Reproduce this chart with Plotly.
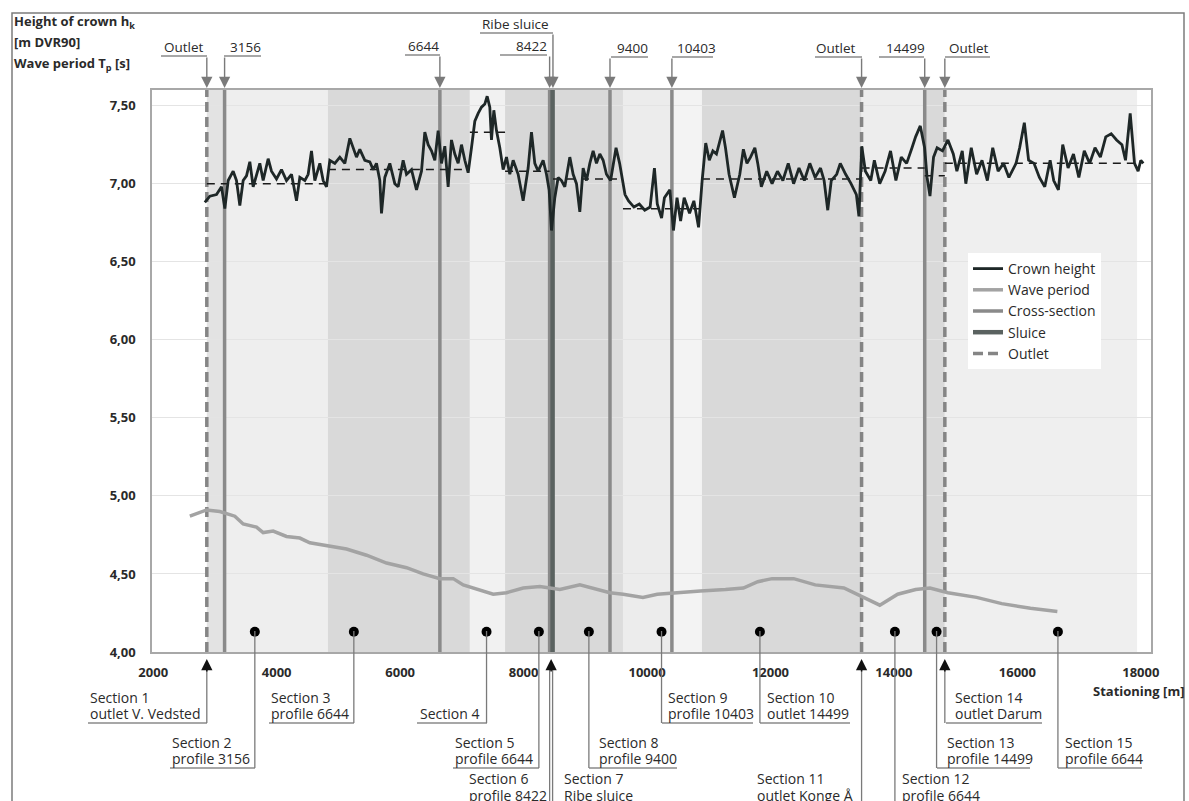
import plotly.graph_objects as go

# ---------------- data ----------------
crown_station = [2836, 2917, 3025, 3106, 3160, 3214, 3295, 3349, 3403, 3457, 3511, 3565, 3619, 3673, 3727, 3781,
                 3862, 3916, 3997, 4078, 4159, 4240, 4321, 4375, 4456, 4510, 4564, 4618, 4699, 4753, 4807, 4861,
                 4942, 5023, 5104, 5185, 5239, 5293, 5347, 5428, 5509, 5563, 5617, 5671, 5698, 5752, 5833, 5914,
                 5968, 6049, 6103, 6184, 6265, 6346, 6400, 6454, 6508, 6562, 6616, 6670, 6724, 6778, 6832, 6886,
                 6940, 6994, 7048, 7102, 7156, 7210, 7264, 7318, 7372, 7410, 7453, 7480, 7518, 7561, 7615, 7669,
                 7723, 7777, 7831, 7912, 7993, 8074, 8128, 8182, 8236, 8317, 8371, 8414, 8452, 8506, 8560, 8614,
                 8668, 8749, 8803, 8857, 8911, 8965, 9019, 9073, 9127, 9181, 9235, 9289, 9343, 9410, 9498, 9556,
                 9643, 9701, 9788, 9875, 9963, 10050, 10120, 10166, 10236, 10282, 10370, 10428, 10486, 10544,
                 10602, 10689, 10759, 10835, 10893, 10951, 11009, 11067, 11125, 11183, 11224, 11271, 11329,
                 11416, 11503, 11561, 11619, 11677, 11747, 11794, 11852, 11939, 12026, 12113, 12201, 12288,
                 12375, 12462, 12549, 12637, 12724, 12811, 12869, 12928, 12985, 13073, 13131, 13218, 13305,
                 13392, 13433, 13479, 13538, 13625, 13683, 13770, 13857, 13945, 14032, 14119, 14206, 14293,
                 14351, 14427, 14497, 14537, 14584, 14642, 14700, 14787, 14875, 14962, 15020, 15107, 15165,
                 15253, 15340, 15427, 15514, 15601, 15688, 15776, 15863, 15979, 16037, 16113, 16182, 16270,
                 16357, 16444, 16531, 16589, 16665, 16735, 16822, 16909, 16996, 17084, 17171, 17258, 17345,
                 17432, 17520, 17607, 17694, 17752, 17828, 17898, 17956, 18000, 18040]
crown_height = [6.88, 6.92, 6.93, 6.98, 6.84, 7.02, 7.08, 7.02, 6.86, 7.02, 7.05, 7.14, 6.98, 7.06, 7.13, 7.02,
                7.16, 7.08, 7.03, 7.09, 7.02, 7.06, 6.89, 7.04, 7.02, 7.06, 7.21, 7.02, 7.13, 7.02, 6.98, 7.15,
                7.13, 7.17, 7.13, 7.29, 7.23, 7.17, 7.22, 7.15, 7.14, 7.09, 7.13, 7.02, 6.81, 7.04, 7.13, 7.00,
                6.98, 7.15, 7.06, 7.09, 6.96, 7.08, 7.33, 7.25, 7.21, 7.15, 7.34, 7.13, 7.24, 6.98, 7.28, 7.19,
                7.13, 7.25, 7.15, 7.07, 7.23, 7.40, 7.45, 7.49, 7.51, 7.56, 7.49, 7.28, 7.47, 7.34, 7.23, 7.09,
                7.17, 7.06, 7.15, 7.06, 6.89, 7.10, 7.33, 7.13, 7.08, 7.15, 7.06, 6.96, 6.70, 6.91, 7.04, 7.02,
                6.98, 7.17, 7.06, 7.00, 6.82, 7.10, 7.02, 7.13, 7.21, 7.13, 7.19, 7.15, 7.06, 7.02, 7.23, 7.13,
                6.93, 6.89, 6.85, 6.87, 6.83, 6.85, 7.10, 6.87, 6.78, 6.91, 6.96, 6.70, 6.91, 6.76,
                6.91, 6.81, 6.89, 6.72, 7.02, 7.26, 7.15, 7.21, 7.19, 7.28, 7.34, 7.23, 7.06,
                6.91, 7.06, 7.22, 7.13, 7.17, 7.23, 7.13, 6.98, 7.08, 7.00, 7.08, 7.02, 7.13,
                7.00, 7.10, 7.02, 7.13, 7.04, 7.10, 7.02, 6.83, 7.02, 7.06, 7.13, 7.06, 7.00,
                6.93, 6.79, 7.24, 7.08, 7.02, 7.15, 7.00, 7.08, 7.21, 7.02, 7.17, 7.13, 7.23,
                7.30, 7.37, 7.23, 7.04, 6.92, 7.17, 7.23, 7.21, 7.28, 7.19, 7.08, 7.21, 7.00,
                7.23, 7.06, 7.15, 7.02, 7.23, 7.08, 7.13, 7.04, 7.13, 7.23, 7.39, 7.15, 7.13,
                7.04, 6.98, 7.15, 7.02, 6.96, 7.25, 7.10, 7.19, 7.04, 7.21, 7.13, 7.23, 7.17,
                7.30, 7.32, 7.28, 7.25, 7.15, 7.45, 7.13, 7.08, 7.15, 7.13]

wave_station = [2593, 2864, 3079, 3322, 3457, 3673, 3781, 3943, 4159, 4375, 4537, 4807, 5132, 5456, 5780,
                6104, 6373, 6644, 6860, 7022, 7184, 7508, 7724, 7994, 8264, 8453, 8588, 8912, 9128, 9398,
                9614, 9933, 10166, 10456, 10864, 11271, 11561, 11794, 12026, 12376, 12725, 13190, 13509,
                13771, 14061, 14352, 14584, 14874, 15339, 15747, 16212, 16648]
wave_period = [4.87, 4.91, 4.90, 4.87, 4.82, 4.80, 4.765, 4.775, 4.74, 4.73, 4.70, 4.68, 4.66, 4.62, 4.57,
               4.54, 4.50, 4.47, 4.47, 4.43, 4.41, 4.37, 4.38, 4.41, 4.42, 4.41, 4.40, 4.43, 4.41, 4.38,
               4.37, 4.35, 4.37, 4.38, 4.39, 4.40, 4.41, 4.45, 4.47, 4.47, 4.43, 4.41, 4.35,
               4.30, 4.37, 4.40, 4.41, 4.38, 4.35, 4.31, 4.28, 4.26]

cross_sections = [3156, 6644, 8422, 9400, 10403, 14499]
sluices = [8470]
outlets = [2868, 13476, 14825]

mean_start = [2868, 4830, 7130, 7700, 8476, 9610, 10890, 13476, 14499, 14825]
mean_end = [4830, 7130, 7700, 8422, 9610, 10890, 13476, 14499, 14825, 17940]
mean_value = [7.00, 7.09, 7.33, 7.08, 7.03, 6.84, 7.03, 7.10, 7.05, 7.13]

band_start = [2868, 3156, 4830, 7130, 7700, 8476, 9400, 9610, 10403, 10890, 13476, 14499, 14825]
band_end = [3156, 4830, 7130, 7700, 8476, 9400, 9610, 10403, 10890, 13476, 14499, 14825, 17940]
band_color = ['#e3e3e3', '#eeeeee', '#d9d9d9', '#f1f1f1', '#d7d7d7', '#d9d9d9', '#dcdcdc',
              '#ececec', '#f3f3f3', '#d9d9d9', '#ededed', '#d9d9d9', '#efefef']

dot_station = [3646, 5250, 7400, 8248, 9058, 10235, 11829, 14016, 14691, 16657]
dot_level = 4.13

x_ticks = [2000, 4000, 6000, 8000, 10000, 12000, 14000, 16000, 18000]
y_ticks = [4.0, 4.5, 5.0, 5.5, 6.0, 6.5, 7.0, 7.5]
X_RANGE = [1980, 18165]
Y_RANGE = [4.0, 7.6]

# ---------------- layout helpers (pixel -> paper) ----------------
W, H = 1189, 801
L, R, T, B = 152, 1151, 90, 652
FONT = "Open Sans"
TXT = "#2a2a2a"
LBL = 14      # size of the section / legend labels
TOPLBL = 13.5


def pxx(p):
    return (p - L) / (R - L)


def pxy(p):
    return (B - p) / (B - T)


fig = go.Figure()

shapes = []
for s, e, c in zip(band_start, band_end, band_color):
    shapes.append(dict(type="rect", xref="x", yref="paper", x0=s, x1=e, y0=0, y1=1,
                       fillcolor=c, line=dict(width=0), layer="below"))


def vlines(xs):
    xx, yy = [], []
    for v in xs:
        xx += [v, v, None]
        yy += [Y_RANGE[0], Y_RANGE[1], None]
    return xx, yy


xx, yy = vlines(cross_sections)
fig.add_trace(go.Scatter(x=xx, y=yy, mode="lines", name="Cross-section", legendrank=3,
                         line=dict(color="#8a8a8a", width=3.5), hoverinfo="skip"))
xx, yy = vlines(sluices)
fig.add_trace(go.Scatter(x=xx, y=yy, mode="lines", name="Sluice", legendrank=4,
                         line=dict(color="#5a6260", width=4.5), hoverinfo="skip"))
xx, yy = vlines(outlets)
fig.add_trace(go.Scatter(x=xx, y=yy, mode="lines", name="Outlet", legendrank=5,
                         line=dict(color="#858585", width=3.5, dash="10px,5px"), hoverinfo="skip"))

fig.add_trace(go.Scatter(x=wave_station, y=wave_period, mode="lines", name="Wave period", legendrank=2,
                         line=dict(color="#a3a3a3", width=3.5)))

mx, my = [], []
for s, e, v in zip(mean_start, mean_end, mean_value):
    mx += [s, e, None]
    my += [v, v, None]
fig.add_trace(go.Scatter(x=mx, y=my, mode="lines", showlegend=False,
                         line=dict(color="#1a1a1a", width=1.5, dash="8px,6px")))

fig.add_trace(go.Scatter(x=crown_station, y=crown_height, mode="lines", name="Crown height", legendrank=1,
                         line=dict(color="#1e2727", width=2.8)))

fig.add_trace(go.Scatter(x=dot_station, y=[dot_level] * len(dot_station), mode="markers", showlegend=False,
                         marker=dict(color="#000000", size=10), cliponaxis=False))

annotations = []


def text_at(txt, xpx, ypx, anchor="left", size=LBL, bold=False):
    if bold:
        txt = "<b>" + txt + "</b>"
    annotations.append(dict(xref="paper", yref="paper", x=pxx(xpx), y=pxy(ypx), xanchor=anchor,
                            yanchor="middle", text=txt, showarrow=False,
                            font=dict(family=FONT, size=size, color=TXT)))


# axis titles
text_at("Height of crown h<sub>k</sub>", 12, 22, size=13, bold=True)
text_at("[m DVR90]", 12, 42, size=13, bold=True)
text_at("Wave period T<sub>p</sub> [s]", 12, 64, size=13, bold=True)
text_at("Stationing [m]", 1186, 691, anchor="right", size=13, bold=True)

# top labels: text, arrow station, text-left px, underline x0, x1 (px), underline y (px)
top_labels = [
    ("Outlet", 2868, 162, 161, 207, 56),
    ("3156", 3156, 228, 224, 261, 56),
    ("6644", 6644, 406, 405, 440, 55),
    ("Ribe sluice", 8476, 480, 480, 553, 33),
    ("8422", 8422, 514, 500, 547, 55),
    ("9400", 9400, 615, 611, 648, 57),
    ("10403", 10403, 675, 672, 713, 57),
    ("Outlet", 13476, 814, 815, 862, 57),
    ("14499", 14499, 884, 879, 924, 57),
    ("Outlet", 14825, 947, 945, 990, 57),
]
TIP_TOP = 88
for txt, st, tl, u0, u1, uy in top_labels:
    shapes.append(dict(type="line", xref="paper", yref="paper", x0=pxx(u0), x1=pxx(u1), y0=pxy(uy), y1=pxy(uy),
                       line=dict(color="#8a8a8a", width=1.3)))
    text_at(txt, tl, uy - 9, size=TOPLBL)
    annotations.append(dict(xref="x", yref="paper", x=st, y=pxy(TIP_TOP), ax=0, ay=-(TIP_TOP - uy),
                            text="", showarrow=True, arrowhead=2, arrowsize=1.6, arrowwidth=1.4,
                            arrowcolor="#7a7a7a", standoff=0))

# bottom labels: lines, text-left px, underline x0, x1, underline y (px)
bottom_labels = [
    (["Section 1", "outlet V. Vedsted"], 88, 88, 207, 723),
    (["Section 2", "profile 3156"], 170, 170, 255, 768),
    (["Section 3", "profile 6644"], 269, 269, 354, 723),
    (["Section 4"], 418, 417, 487, 723),
    (["Section 5", "profile 6644"], 453, 453, 539, 768),
    (["Section 6", "profile 8422"], 467, None, None, 805),
    (["Section 7", "Ribe sluice"], 562, None, None, 805),
    (["Section 8", "profile 9400"], 597, 589, 677, 768),
    (["Section 9", "profile 10403"], 666, 662, 753, 723),
    (["Section 10", "outlet 14499"], 765, 760, 850, 723),
    (["Section 11", "outlet Konge Å"], 755, None, None, 805),
    (["Section 12", "profile 6644"], 900, None, None, 805),
    (["Section 13", "profile 14499"], 945, 937, 1030, 768),
    (["Section 14", "outlet Darum"], 953, 946, 1042, 723),
    (["Section 15", "profile 6644"], 1063, 1058, 1142, 768),
]
for lines, tl, u0, u1, uy in bottom_labels:
    if u0 is not None:
        shapes.append(dict(type="line", xref="paper", yref="paper", x0=pxx(u0), x1=pxx(u1), y0=pxy(uy),
                           y1=pxy(uy), line=dict(color="#8a8a8a", width=1.3)))
    for k, ln in enumerate(reversed(lines)):
        text_at(ln, tl, uy - 10 - 16 * k)

# connectors from dots down to the underlines
dot_drop = [768, 723, 723, 768, 768, 723, 723, 801, 768, 768]
for st, yb in zip(dot_station, dot_drop):
    shapes.append(dict(type="line", xref="x", yref="paper", x0=st, x1=st, y0=pxy(631), y1=pxy(yb),
                       line=dict(color="#7a7a7a", width=1.3)))

# arrows from below pointing up to the axis
TIP_BOT = 659
bottom_arrows = [(2868, [2868], 723), (8446, [8422, 8470], 801), (13476, [13476], 801), (14825, [14825], 723)]
for tip, lns, yb in bottom_arrows:
    for ln in lns:
        shapes.append(dict(type="line", xref="x", yref="paper", x0=ln, x1=ln, y0=pxy(TIP_BOT + 8), y1=pxy(yb),
                           line=dict(color="#7a7a7a", width=1.3)))
    annotations.append(dict(xref="x", yref="paper", x=tip, y=pxy(TIP_BOT), ax=0, ay=14, text="",
                            showarrow=True, arrowhead=2, arrowsize=1.5, arrowwidth=1.5,
                            arrowcolor="#111111", standoff=0))

# outer frame
shapes.append(dict(type="rect", xref="paper", yref="paper", x0=pxx(12), x1=pxx(1184), y0=pxy(812), y1=pxy(13),
                   line=dict(color="#7c7c7c", width=1.5), fillcolor="rgba(0,0,0,0)", layer="above"))

fig.update_layout(
    width=W, height=H,
    margin=dict(l=L, r=W - R, t=T, b=H - B, pad=0),
    paper_bgcolor="white", plot_bgcolor="white",
    separators=", ",
    font=dict(family=FONT, size=12, color=TXT),
    shapes=shapes, annotations=annotations,
    legend=dict(x=pxx(968), y=pxy(253), xanchor="left", yanchor="top", bgcolor="white",
                font=dict(family=FONT, size=LBL, color=TXT), itemwidth=30, tracegroupgap=0,
                borderwidth=0),
    xaxis=dict(range=X_RANGE, tickvals=x_ticks, tickformat="d", showgrid=False, zeroline=False,
               showline=True, mirror=True, linecolor="#a8a8a8", linewidth=1.5, ticks="",
               tickfont=dict(family=FONT, size=13, color=TXT, weight="bold"), ticklabelstandoff=8),
    yaxis=dict(range=Y_RANGE, tickvals=y_ticks, tickformat=".2f", showgrid=True, gridcolor="#e4e4e4",
               gridwidth=1, zeroline=False, showline=True, mirror=True, linecolor="#a8a8a8", linewidth=1.5,
               ticks="", tickfont=dict(family=FONT, size=13, color=TXT, weight="bold"), ticklabelstandoff=12),
    showlegend=True,
)

fig.write_html("out.html", config={"displayModeBar": False},
               post_script="document.body.style.margin='0';document.body.style.overflow='hidden';")
